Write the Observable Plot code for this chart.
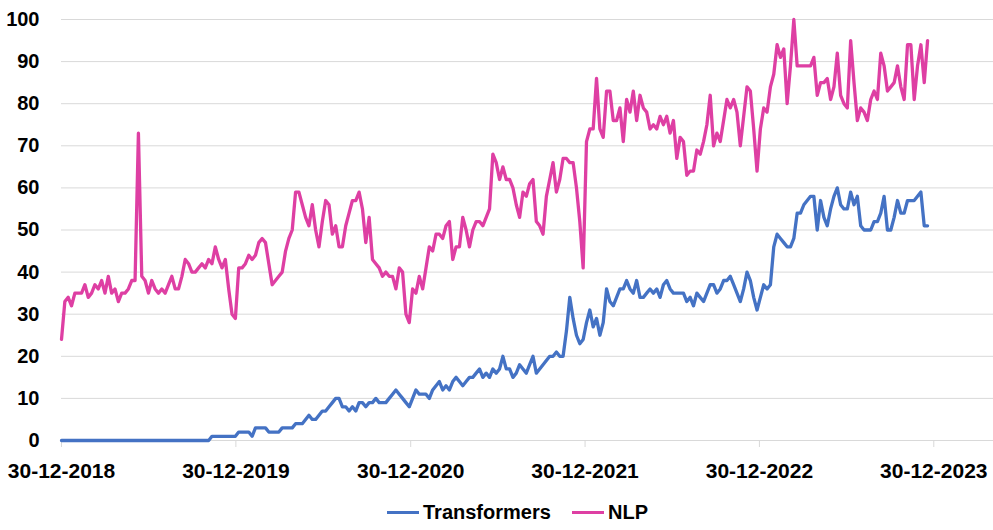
<!DOCTYPE html>
<html>
<head>
<meta charset="utf-8">
<script src="https://cdn.jsdelivr.net/npm/d3@7"></script>
<script src="https://cdn.jsdelivr.net/npm/@observablehq/plot@0.6"></script>
<style>
  html, body { margin: 0; padding: 0; background: #fff; }
  #chart { width: 993px; }
  .legend { height: 35px; position: relative; font-family: "Liberation Sans", Arial, sans-serif; font-weight: bold; font-size: 20px; color: #000; }
  .item { position: absolute; top: 0; height: 35px; line-height: 35px; display: flex; align-items: center; }
  .sw { width: 32px; height: 3px; margin-right: 4px; }
</style>
</head>
<body>
<div id="chart"></div>
<script>
// Weekly series starting 30-12-2018
const startDate = [2018, 11, 30];
const seriesNames = ["Transformers", "NLP"];
const seriesColors = ["#4472C4", "#DE3FA3"];

const transformers = [
  0,0,0,0,0,0,0,0,0,0, 0,0,0,0,0,0,0,0,0,0,
  0,0,0,0,0,0,0,0,0,0, 0,0,0,0,0,0,0,0,0,0,
  0,0,0,0,0,1,1,1,1,1, 1,1,1,2,2,2,2,1,3,3,
  3,3,2,2,2,2,3,3,3,3, 4,4,4,5,6,5,5,6,7,7,
  8,9,10,10,8,8,7,8,7,9, 9,8,9,9,10,9,9,9,10,11,
  12,11,10,9,8,10,12,11,11,11, 10,12,13,14,12,13,12,14,15,14,
  13,14,15,15,16,17,15,16,15,17, 16,17,20,17,17,15,16,18,17,16,
  18,20,16,17,18,19,20,20,21,20, 20,26,34,29,25,23,24,28,31,27,
  29,25,28,36,33,32,34,36,36,38, 36,35,38,34,34,35,36,35,36,34,
  37,38,36,35,35,35,35,33,34,32, 35,34,33,35,37,37,35,36,38,38,
  39,37,35,33,36,40,38,34,31,34, 37,36,37,46,49,48,47,46,46,48,
  54,54,56,57,58,58,50,57,53,51, 55,58,60,56,55,55,59,56,58,51,
  50,50,50,52,52,54,58,50,50,53, 57,54,54,57,57,57,58,59,51,51
];

const nlp = [
  24,33,34,32,35,35,35,37,34,35, 37,36,38,35,39,35,36,33,35,35,
  36,38,38,73,39,38,35,38,36,35, 36,35,37,39,36,36,39,43,42,40,
  40,41,42,41,43,42,46,43,41,43, 36,30,29,41,41,42,44,43,44,47,
  48,47,42,37,38,39,40,45,48,50, 59,59,56,53,51,56,50,46,52,57,
  56,49,51,46,46,51,54,57,57,59, 55,47,53,43,42,41,39,40,39,39,
  36,41,40,30,28,36,35,39,36,41, 46,45,49,49,48,51,52,43,46,46,
  53,50,46,50,52,52,51,53,55,68, 66,62,65,62,62,60,56,53,59,58,
  61,62,52,51,49,58,62,66,59,62, 67,67,66,66,60,52,41,71,74,74,
  86,74,72,83,83,76,76,79,71,81, 78,83,76,82,79,78,74,75,74,77,
  75,77,73,76,67,72,71,63,64,64, 69,68,71,75,82,70,73,71,76,81,
  79,81,78,70,77,84,83,74,64,74, 79,78,84,87,94,91,93,80,89,100,
  89,89,89,89,89,91,82,85,85,86, 81,84,92,82,80,79,95,85,76,79,
  78,76,81,83,81,92,89,83,84,85, 89,84,81,94,94,81,89,94,85,95
];

const yTicks = [0,10,20,30,40,50,60,70,80,90,100];
const xTickYears = [2018,2019,2020,2021,2022,2023];

const t0 = Date.UTC(startDate[0], startDate[1], startDate[2]);
const week = 7 * 864e5;
const rows = [];
[transformers, nlp].forEach((vals, s) => {
  vals.forEach((v, i) => rows.push({date: new Date(t0 + i * week), value: v, series: seriesNames[s]}));
});
const xTicks = xTickYears.map(y => new Date(Date.UTC(y, 11, 30)));
const pad = n => String(n).padStart(2, "0");
const fmt = d => `${pad(d.getUTCDate())}-${pad(d.getUTCMonth() + 1)}-${d.getUTCFullYear()}`;

const chart = Plot.plot({
  width: 993,
  height: 495,
  marginLeft: 61,
  marginRight: 0,
  marginTop: 19,
  marginBottom: 55,
  style: {fontFamily: "'Liberation Sans', Arial, sans-serif", fontSize: "20px", fontWeight: "bold", color: "#000", background: "#fff", overflow: "visible"},
  x: {type: "utc", domain: [new Date(t0), new Date(Date.UTC(2024, 4, 3))]},
  y: {domain: [0, 100]},
  color: {domain: seriesNames, range: seriesColors},
  marks: [
    Plot.ruleY(yTicks.filter(d => d > 0), {stroke: "#D9D9D9", strokeWidth: 1}),
    Plot.ruleY([0], {stroke: "#D9D9D9", strokeWidth: 1}),
    Plot.axisX({ticks: xTicks, tickFormat: fmt, tickSize: 7, tickPadding: 16, stroke: "#D9D9D9", fill: "#000", fontSize: 21, label: null}),
    Plot.axisY({ticks: yTicks, tickSize: 0, tickPadding: 22, fill: "#000", label: null}),
    Plot.line(rows, {x: "date", y: "value", z: "series", stroke: "series", strokeWidth: 3.3, strokeLinejoin: "round", strokeLinecap: "round"})
  ]
});
document.getElementById("chart").appendChild(chart);

const legend = document.createElement("div");
legend.className = "legend";
const lefts = [387, 572];
seriesNames.forEach((n, i) => {
  const it = document.createElement("div");
  it.className = "item";
  it.style.left = lefts[i] + "px";
  const sw = document.createElement("span");
  sw.className = "sw";
  sw.style.background = seriesColors[i];
  const tx = document.createElement("span");
  tx.textContent = n;
  it.appendChild(sw); it.appendChild(tx);
  legend.appendChild(it);
});
document.getElementById("chart").appendChild(legend);
</script>
</body>
</html>
